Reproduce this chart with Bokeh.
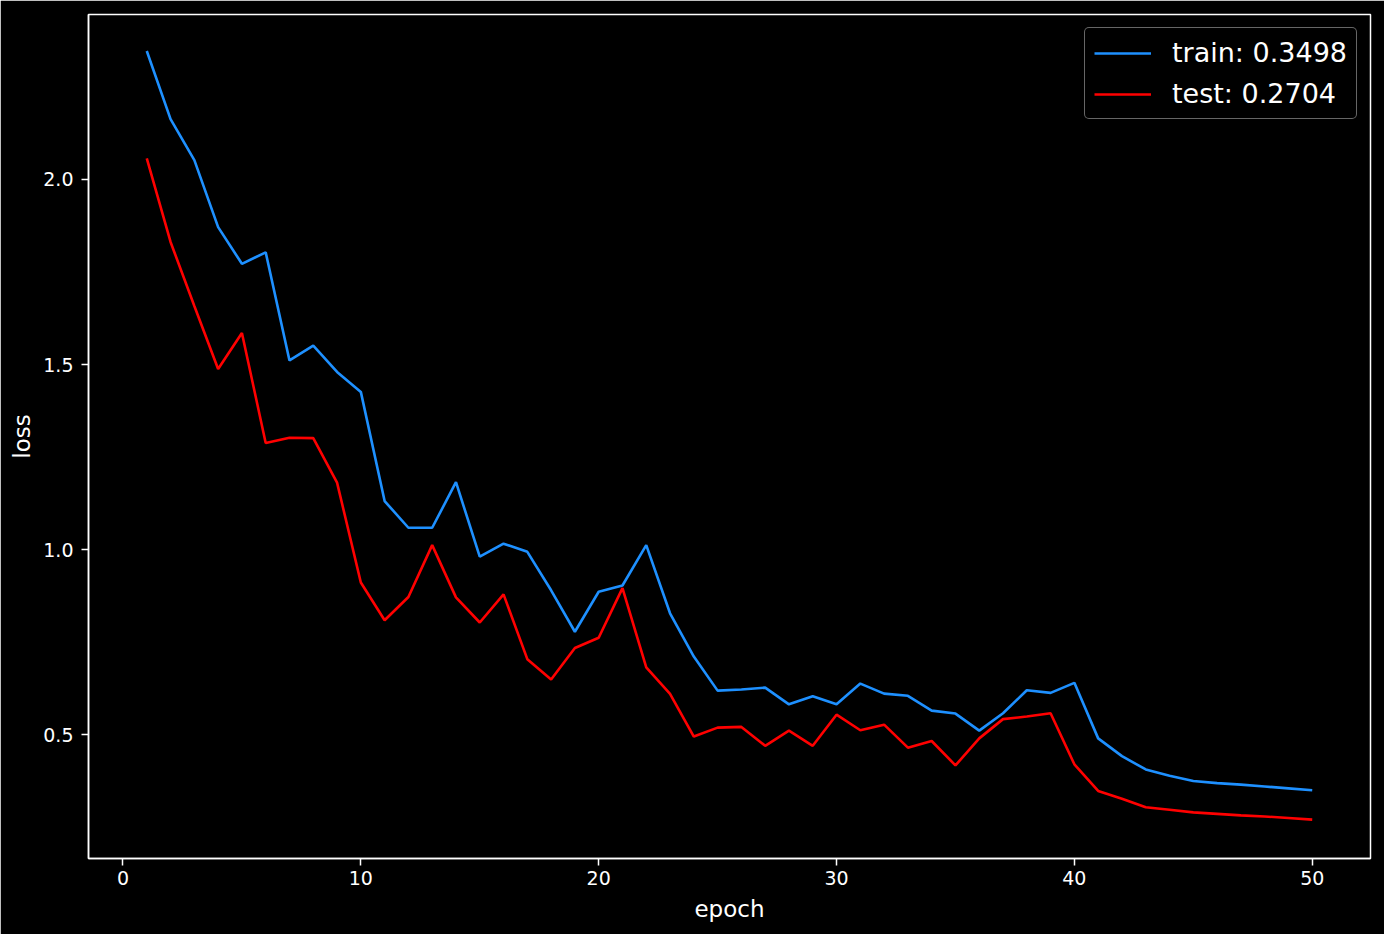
from bokeh.plotting import figure
from bokeh.models import Range1d, FixedTicker, PrintfTickFormatter, Legend, LegendItem
from bokeh.embed import file_html
from bokeh.resources import INLINE

epochs = list(range(1, 51))
train_loss = [2.347, 2.163, 2.052, 1.871, 1.772, 1.803, 1.511, 1.551, 1.480, 1.426,
              1.131, 1.059, 1.059, 1.182, 0.981, 1.016, 0.994, 0.890, 0.778, 0.886,
              0.903, 1.012, 0.828, 0.711, 0.619, 0.622, 0.627, 0.582, 0.604, 0.582,
              0.638, 0.611, 0.605, 0.565, 0.557, 0.511, 0.558, 0.620, 0.613, 0.640,
              0.490, 0.442, 0.406, 0.389, 0.375, 0.369, 0.365, 0.360, 0.355, 0.3498]
test_loss = [2.057, 1.831, 1.658, 1.488, 1.585, 1.288, 1.302, 1.301, 1.181, 0.911,
             0.809, 0.872, 1.012, 0.871, 0.803, 0.879, 0.704, 0.649, 0.734, 0.762,
             0.896, 0.682, 0.610, 0.495, 0.519, 0.521, 0.470, 0.511, 0.470, 0.554,
             0.512, 0.527, 0.465, 0.483, 0.417, 0.490, 0.542, 0.549, 0.558, 0.420,
             0.348, 0.327, 0.304, 0.297, 0.290, 0.286, 0.282, 0.279, 0.275, 0.2704]
x_ticks = [0, 10, 20, 30, 40, 50]
y_ticks = [0.5, 1.0, 1.5, 2.0]
series_labels = ["train: 0.3498", "test: 0.2704"]
series_colors = ["#1E90FF", "#FF0000"]

FONT = "DejaVu Sans"

p = figure(width=1384, height=934, output_backend="svg", toolbar_location=None,
           x_range=Range1d(-1.45, 52.45), y_range=Range1d(0.1655, 2.4455),
           min_border_left=88, min_border_right=14, min_border_top=14, min_border_bottom=76,
           background_fill_color="black", border_fill_color="black")

p.outline_line_color = "white"
p.outline_line_width = 1.5
p.xgrid.visible = False
p.ygrid.visible = False

r1 = p.line(epochs, train_loss, line_color=series_colors[0], line_width=2.6)
r2 = p.line(epochs, test_loss, line_color=series_colors[1], line_width=2.6)

p.xaxis.ticker = FixedTicker(ticks=x_ticks)
p.yaxis.ticker = FixedTicker(ticks=y_ticks)
p.yaxis.formatter = PrintfTickFormatter(format="%.1f")
p.xaxis.axis_label = "epoch"
p.yaxis.axis_label = "loss"

for ax in (p.xaxis, p.yaxis):
    ax.axis_line_color = "white"
    ax.axis_line_width = 1.5
    ax.major_tick_line_color = "white"
    ax.major_tick_line_width = 1.5
    ax.major_tick_out = 7
    ax.major_tick_in = 0
    ax.minor_tick_line_color = None
    ax.major_label_text_color = "white"
    ax.major_label_text_font = FONT
    ax.major_label_text_font_size = "19px"
    ax.axis_label_text_color = "white"
    ax.axis_label_text_font = FONT
    ax.axis_label_text_font_size = "23px"
    ax.axis_label_text_font_style = "normal"

p.xaxis.major_label_standoff = 5
p.xaxis.axis_label_standoff = 8
p.yaxis.major_label_standoff = 8
p.yaxis.axis_label_standoff = 5

legend = Legend(items=[LegendItem(label=series_labels[0], renderers=[r1]),
                       LegendItem(label=series_labels[1], renderers=[r2])],
                location="top_right")
legend.label_text_font = FONT
legend.label_text_font_size = "27px"
legend.label_text_color = "white"
legend.background_fill_color = "black"
legend.background_fill_alpha = 1.0
legend.border_line_color = "#cccccc"
legend.border_line_width = 1.5
legend.glyph_width = 57
legend.glyph_height = 30
legend.label_standoff = 21
legend.padding = 9
legend.spacing = 10
legend.margin = 13
if "border_radius" in Legend.properties():
    legend.border_radius = 5
p.add_layout(legend)

open("out.html", "w").write(file_html(p, INLINE))
